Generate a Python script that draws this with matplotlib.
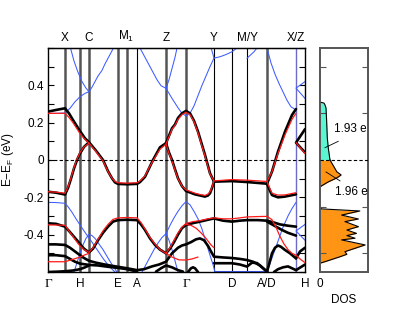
import matplotlib
matplotlib.use("Agg")
import matplotlib.pyplot as plt
from matplotlib.ticker import MultipleLocator

plt.rcParams['font.family'] = ['Liberation Sans', 'DejaVu Sans']
plt.rcParams['mathtext.fontset'] = 'custom'
plt.rcParams['mathtext.rm'] = 'Liberation Sans'
plt.rcParams['mathtext.it'] = 'Liberation Sans:italic'
plt.rcParams['axes.unicode_minus'] = False

# ---------------- k-path ----------------
kpos_thick = [17, 32, 41, 70, 79, 118, 138, 219]
kpos_thin = [89, 166, 184, 199]
kpos_xz = [248]
bottom_ticks = [0, 32, 70, 89, 138, 184, 219, 257]
bottom_labels = ['Γ', 'H', 'E', 'A', 'Γ', 'D', 'A/D', 'H']
top_ticks = [17, 41, 78, 118, 166, 199, 248]
top_labels = ['X', 'C', r'M$_\mathrm{1}$', 'Z', 'Y', 'M/Y', 'X/Z']

# ---------------- bands (k, E) ----------------
black_up = [(0,0.259),(8,0.268),(17,0.277),(21,0.25),(25,0.214),(32,0.155),(37,0.116),(41,0.095),(48,0.05),(55,0.0),
            (60,-0.06),(64,-0.098),(67,-0.12),(70,-0.128),(79,-0.13),(89,-0.128),(92,-0.118),(97,-0.09),(101,-0.045),
            (105,0.0),(112,0.068),(118,0.09),(124,0.17),(127,0.19),(130,0.225),(134,0.25),(138,0.263),(142,0.25),
            (146,0.21),(150,0.152),(157,0.027),(162,-0.071),(166,-0.116),(184,-0.113),(199,-0.118),(219,-0.127),
            (224,-0.062),(230,0.045),(237,0.152),(244,0.241),(248,0.273)]
black_dn1 = [(0,-0.170),(8,-0.175),(17,-0.185),(20,-0.15),(23,-0.10),(26,-0.045),(29,0.0),(32,0.035),(36,0.07),(41,0.095)]
black_dn2 = [(118,0.09),(121,0.04),(124,0.0),(127,-0.05),(130,-0.098),(134,-0.14),(138,-0.166),(143,-0.176),
             (147,-0.184),(152,-0.19),(157,-0.196),(160,-0.19),(162,-0.178),(164,-0.15),(166,-0.116)]
black_dn3 = [(219,-0.127),(222,-0.165),(224,-0.188),(230,-0.2),(237,-0.196),(248,-0.184)]
black_xz = [(257,0.165),(248,0.093),(257,0.04)]

red_up = [(0,0.25),(8,0.25),(17,0.25),(21,0.228),(25,0.2),(32,0.142),(37,0.11),(41,0.09),(48,0.045),(55,-0.005),
          (60,-0.062),(64,-0.097),(67,-0.115),(70,-0.122),(79,-0.124),(89,-0.122),(92,-0.112),(97,-0.085),
          (101,-0.042),(105,-0.005),(112,0.058),(118,0.085),(124,0.165),(127,0.186),(130,0.218),(134,0.243),
          (138,0.256),(142,0.243),(146,0.205),(150,0.145),(157,0.02),(162,-0.075),(166,-0.112),(184,-0.105),
          (199,-0.108),(219,-0.115),(224,-0.062),(230,0.035),(237,0.135),(244,0.218),(248,0.25)]
red_dn1 = [(0,-0.17),(8,-0.172),(17,-0.178),(20,-0.145),(23,-0.095),(26,-0.04),(29,0.005),(32,0.04),(36,0.07),(41,0.09)]
red_dn2 = [(118,0.085),(121,0.035),(124,-0.005),(127,-0.055),(130,-0.1),(134,-0.14),(138,-0.16),(143,-0.17),
           (147,-0.178),(152,-0.185),(157,-0.19),(160,-0.183),(162,-0.17),(164,-0.145),(166,-0.112)]
red_dn3 = [(219,-0.115),(222,-0.155),(224,-0.178),(230,-0.188),(237,-0.187),(248,-0.175)]
red_xz = [(248,0.093),(257,0.035)]

blue_a = [(0,0.25),(8,0.25),(17,0.252),(22,0.277),(27,0.312),(32,0.339),(37,0.357),(41,0.366),(44,0.39),
          (47,0.42),(50,0.45),(54,0.48),(57,0.515),(60,0.545),(63,0.575),(65.5,0.6)]
blue_b = [(22.5,0.6),(26,0.53),(30,0.47),(34,0.42),(38,0.385),(41,0.366)]
blue_c = [(92,0.6),(97,0.55),(101,0.51),(105,0.47),(109,0.43),(113,0.398),(118,0.384),(124,0.33),(130,0.28),
          (134,0.25),(138,0.236),(142,0.25),(146,0.29),(150,0.345),(154,0.4),(158,0.45),(162,0.5),(166,0.546)]
blue_c2 = [(118,0.384),(121,0.43),(124,0.49),(127,0.55),(129,0.6)]
blue_y1 = [(166,0.546),(164.5,0.575),(163,0.6)]
blue_y2 = [(166,0.546),(172,0.553),(178,0.565),(184,0.58),(189,0.6)]
blue_my = [(199,0.545),(202,0.56),(206,0.58),(209,0.6)]
blue_g = [(219,0.6),(223,0.52),(227,0.46),(231,0.41),(235,0.365),(239,0.32),(243,0.285),(248,0.268)]
blue_xz = [(257,0.42),(248,0.385),(257,0.33)]

blue_l1 = [(0,-0.227),(8,-0.228),(17,-0.232),(20,-0.25),(24,-0.28),(28,-0.315),(32,-0.348),(36,-0.38),
           (40,-0.41),(44,-0.44),(47,-0.464),(51,-0.495),(55,-0.527),(59,-0.555),(63,-0.58),(67,-0.6)]
blue_l2 = [(26,-0.6),(29,-0.55),(32,-0.5),(35,-0.455),(38,-0.42),(41,-0.398),(44,-0.405),(47,-0.42),
           (51,-0.45),(55,-0.48),(60,-0.525),(64,-0.56),(69,-0.6)]
blue_l3 = [(94,-0.6),(98,-0.56),(102,-0.52),(106,-0.48),(110,-0.445),(114,-0.415),(118,-0.395),(121,-0.43),
           (124,-0.48),(127,-0.54),(130,-0.6)]
blue_l4 = [(118,-0.395),(122,-0.35),(126,-0.31),(130,-0.275),(134,-0.245),(138,-0.223),(142,-0.24),
           (146,-0.275),(150,-0.315),(154,-0.37),(158,-0.44),(162,-0.51),(165,-0.56),(167,-0.6)]
blue_bot = [(166,-0.596),(219,-0.596)]
blue_l5 = [(219,-0.598),(223,-0.54),(227,-0.48),(231,-0.42),(235,-0.36),(240,-0.3),(244,-0.26),(248,-0.227)]
blue_xz_l = [(257,-0.345),(248,-0.38),(257,-0.43)]

black_l1 = [(0,-0.339),(8,-0.342),(17,-0.357),(21,-0.38),(25,-0.405),(29,-0.43),(32,-0.45),(36,-0.475),
            (41,-0.495),(45,-0.475),(50,-0.43),(55,-0.39),(60,-0.357),(65,-0.33),(70,-0.322),(79,-0.32),
            (89,-0.322),(93,-0.345),(97,-0.375),(102,-0.42),(107,-0.455),(112,-0.48),(118,-0.5),(122,-0.475),
            (126,-0.44),(130,-0.4),(134,-0.365),(138,-0.348),(145,-0.338),(152,-0.33),(160,-0.32),(166,-0.313),
            (175,-0.325),(184,-0.33),(192,-0.325),(199,-0.322),(210,-0.322),(219,-0.325),(226,-0.335),
            (232,-0.345),(240,-0.352),(248,-0.357)]
red_l1 = [(0,-0.348),(8,-0.348),(17,-0.35),(21,-0.38),(25,-0.41),(29,-0.44),(32,-0.46),(36,-0.48),(41,-0.495),
          (45,-0.47),(50,-0.425),(55,-0.38),(60,-0.345),(65,-0.318),(70,-0.31),(79,-0.308),(89,-0.31),
          (93,-0.335),(97,-0.37),(102,-0.415),(107,-0.45),(112,-0.48),(118,-0.5),(122,-0.47),(126,-0.43),
          (130,-0.39),(134,-0.36),(138,-0.34),(145,-0.33),(152,-0.325),(160,-0.315),(166,-0.31),(175,-0.315),
          (184,-0.315),(192,-0.31),(199,-0.305),(210,-0.303),(219,-0.302),(224,-0.32),(228,-0.36),(232,-0.41),
          (236,-0.45),(240,-0.48),(244,-0.5),(248,-0.51)]
red_l0 = [(0,-0.545),(8,-0.545),(17,-0.545),(25,-0.532),(32,-0.52),(36,-0.51),(41,-0.5)]
red_l0b = [(118,-0.5),(124,-0.52),(131,-0.535),(138,-0.536),(144,-0.53),(150,-0.52)]
red_l2 = [(138,-0.345),(143,-0.35),(148,-0.365),(153,-0.39),(158,-0.42),(163,-0.455),(166,-0.47)]
black_l2 = [(0,-0.452),(8,-0.452),(17,-0.455),(22,-0.47),(27,-0.49),(32,-0.51),(36,-0.525),(41,-0.54),
            (48,-0.55),(55,-0.558),(62,-0.565),(70,-0.572),(79,-0.58),(89,-0.59),(96,-0.585),(104,-0.57),
            (111,-0.56),(118,-0.545),(124,-0.5),(130,-0.47),(134,-0.458),(138,-0.452),(143,-0.44),(148,-0.425),
            (152,-0.42),(156,-0.43),(160,-0.46),(163,-0.49),(166,-0.518),(175,-0.522),(184,-0.525),(192,-0.53),
            (199,-0.536),(205,-0.545),(212,-0.565),(219,-0.598)]
black_l3 = [(0,-0.51),(8,-0.51),(17,-0.515),(22,-0.53),(27,-0.545),(32,-0.555),(41,-0.562),(50,-0.565),
            (60,-0.572),(70,-0.578),(79,-0.585),(89,-0.598)]
black_l3b = [(108,-0.598),(113,-0.58),(118,-0.565),(124,-0.575),(130,-0.59),(135,-0.598)]
black_l3c = [(140,-0.6),(143,-0.58),(145,-0.575),(147,-0.58),(150,-0.6)]
black_l3d = [(166,-0.553),(175,-0.553),(184,-0.553),(192,-0.56),(199,-0.571),(204,-0.55),(209,-0.552),
             (214,-0.575),(219,-0.598)]
black_l4 = [(0,-0.6),(10,-0.598),(17,-0.596),(25,-0.592),(32,-0.585),(37,-0.575),(41,-0.565)]
black_r1 = [(219,-0.33),(224,-0.345),(229,-0.36),(234,-0.375),(240,-0.39),(248,-0.405)]
black_r2 = [(219,-0.598),(221,-0.56),(224,-0.5),(227,-0.47),(230,-0.458),(233,-0.465),(237,-0.482),
            (242,-0.5),(248,-0.527)]
black_r3 = [(226,-0.6),(230,-0.585),(235,-0.575),(240,-0.57),(244,-0.58),(248,-0.59)]
black_xz_l = [(248,-0.527),(252,-0.49),(257,-0.47)]
black_xz_l2 = [(248,-0.59),(257,-0.56)]
red_xz_l = [(248,-0.51),(252,-0.53),(257,-0.55)]

# ---------------- DOS ----------------
dos_cyan_e = [0.0, 0.064, 0.118, 0.20, 0.279, 0.295, 0.305, 0.31]
dos_cyan_v = [0.208, 0.173, 0.152, 0.14, 0.125, 0.104, 0.083, 0.0]
dos_or1_e = [0.0, -0.027, -0.063, -0.080, -0.096, -0.118, -0.138, -0.145]
dos_or1_v = [0.208, 0.27, 0.35, 0.44, 0.35, 0.167, 0.035, 0.0]
dos_or2_e = [-0.257, -0.262, -0.273, -0.295, -0.316, -0.330, -0.357, -0.375, -0.393, -0.405, -0.419,
             -0.428, -0.455, -0.491, -0.505, -0.518, -0.545, -0.553]
dos_or2_v = [0.0, 0.035, 0.83, 0.45, 0.80, 0.52, 0.80, 0.56, 0.76, 0.56, 0.73, 0.45, 0.94, 0.52, 0.56,
             0.42, 0.10, 0.0]
charge_labels = ['1.93 e', '1.96 e']

BLACK = 'black'
RED = '#ff1a1a'
BLUE = '#3d5cff'
CYAN = '#5cf5d2'
ORANGE = '#ff9415'
GRAY = '#555555'

fig = plt.figure(figsize=(4.15, 3.21), dpi=100)
ax = fig.add_axes([48/415, 49/321, 257/415, 224/321])

for k in kpos_thick:
    ax.axvline(k, color=GRAY, lw=1.8, zorder=1)
for k in kpos_thin:
    ax.axvline(k, color='black', lw=0.8, zorder=1)
for k in kpos_xz:
    ax.axvline(k, color='#6c6cc8', lw=1.0, zorder=1)

def draw(pts, color, lw, z):
    ks = [p[0] for p in pts]
    es = [p[1] for p in pts]
    ax.plot(ks, es, color=color, lw=lw, zorder=z, solid_capstyle='round', solid_joinstyle='round')

for b in [blue_a, blue_b, blue_c, blue_c2, blue_y1, blue_y2, blue_my, blue_g, blue_xz,
          blue_l1, blue_l2, blue_l3, blue_l4, blue_bot, blue_l5, blue_xz_l]:
    draw(b, BLUE, 0.75, 2)
for b in [black_up, black_dn1, black_dn2, black_dn3, black_xz, black_l1, black_l2, black_l3, black_l3b,
          black_l3c, black_l3d, black_l4, black_r1, black_r2, black_r3, black_xz_l, black_xz_l2]:
    draw(b, BLACK, 1.9, 3)
for b in [red_up, red_dn1, red_dn2, red_dn3, red_xz, red_l1, red_l0, red_l0b, red_l2, red_xz_l]:
    draw(b, RED, 0.9, 4)

ax.axhline(0, color='black', lw=0.8, ls=(0, (3, 2)), zorder=5)
ax.set_xlim(0, 257)
ax.set_ylim(-0.6, 0.6)
ax.yaxis.set_major_locator(MultipleLocator(0.2))
ax.yaxis.set_minor_locator(MultipleLocator(0.1))
ax.set_yticks([-0.4, -0.2, 0, 0.2, 0.4])
ax.set_yticklabels(['-0.4', '-0.2', '0', '0.4'.replace('0.4', '0.2'), '0.4'])
ax.tick_params(axis='y', which='both', direction='in', left=True, right=True, length=4, width=0.8,
               labelsize=8.5, pad=3)
ax.set_xticks(bottom_ticks)
ax.set_xticklabels(bottom_labels)
ax.tick_params(axis='x', length=0, labelsize=8.5, pad=4)
for lbl in ax.get_xticklabels():
    if lbl.get_text() == 'Γ':
        lbl.set_fontfamily('Liberation Serif')
        lbl.set_fontsize(9.5)
top = ax.secondary_xaxis('top')
top.set_xticks(top_ticks)
top.set_xticklabels(top_labels)
top.tick_params(axis='x', length=0, labelsize=8.5, pad=3)
for s in ax.spines.values():
    s.set_linewidth(1.0)
ax.set_ylabel(r'E−E$_\mathrm{F}$ (eV)', fontsize=8.5)
ax.yaxis.set_label_coords(-0.125, 0.5)

# DOS panel
ax2 = fig.add_axes([320/415, 49/321, 48/415, 224/321])
ax2.fill_betweenx(dos_cyan_e, 0, dos_cyan_v, color=CYAN, lw=0, zorder=1)
ax2.fill_betweenx(dos_or1_e, 0, dos_or1_v, color=ORANGE, lw=0, zorder=1)
ax2.fill_betweenx(dos_or2_e, 0, dos_or2_v, color=ORANGE, lw=0, zorder=1)
for v, e in [(dos_cyan_v, dos_cyan_e), (dos_or1_v, dos_or1_e), (dos_or2_v, dos_or2_e)]:
    ax2.plot(v, e, color='black', lw=0.8, zorder=2)
ax2.axhline(0, color='black', lw=0.8, ls=(0, (3, 2)), zorder=3)
ax2.set_xlim(0, 1)
ax2.set_ylim(-0.6, 0.6)
ax2.set_yticks([-0.5, -0.25, 0.25, 0.5])
ax2.set_yticklabels([])
ax2.tick_params(axis='y', direction='in', left=True, right=True, length=4, width=0.8, color=GRAY)
ax2.set_xticks([0])
ax2.set_xticklabels(['0'])
ax2.tick_params(axis='x', length=0, labelsize=8.5, pad=4)
ax2.set_xlabel('DOS', fontsize=8.5, labelpad=3)
for s in ax2.spines.values():
    s.set_color(GRAY)
    s.set_linewidth(1.4)
ax2.plot([0.38, 0.104], [0.10, 0.066], color='black', lw=0.6, zorder=4)
ax2.text(0.29, 0.166, charge_labels[0], fontsize=8.5, ha='left', va='center', zorder=5, clip_on=False)
ax2.plot([0.125, 0.417], [-0.064, -0.112], color='black', lw=0.6, zorder=4)
ax2.text(0.31, -0.17, charge_labels[1], fontsize=8.5, ha='left', va='center', zorder=5, clip_on=False)

fig.savefig('out.png', dpi=100)
